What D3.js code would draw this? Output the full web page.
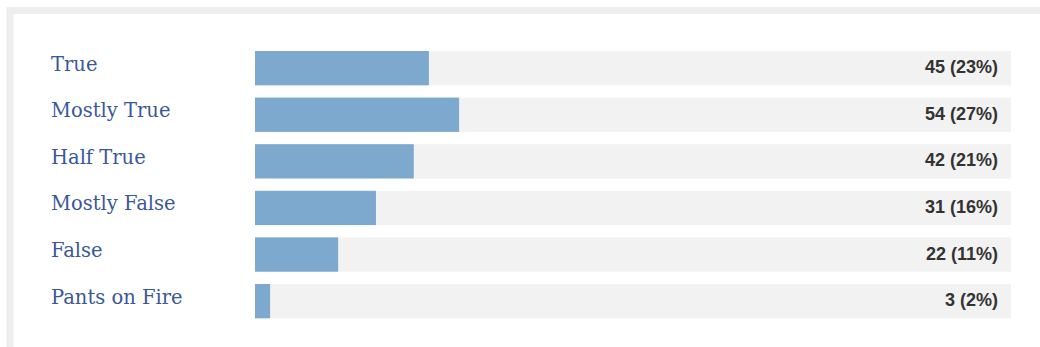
<!DOCTYPE html>
<html lang="en">
<head>
  <meta charset="UTF-8">
  <title>Ratings</title>
  <script src="https://cdnjs.cloudflare.com/ajax/libs/d3/7.8.5/d3.min.js"></script>
  <style>
    * { margin: 0; padding: 0; }
    html, body { background: #fff; }
    svg { display: block; }
  </style>
</head>
<body>
  <div id="chart"></div>
<script>
  const categories = ['True', 'Mostly True', 'Half True', 'Mostly False', 'False', 'Pants on Fire']
  const counts = [45, 54, 42, 31, 22, 3]
  const percents = [23, 27, 21, 16, 11, 2]

  const W = 1040, H = 347
  const svg = d3.select('#chart').append('svg')
    .attr('width', W)
    .attr('height', H)

  // panel frame (runs off right and bottom edges)
  svg.append('rect')
    .attr('x', 10).attr('y', 10.5)
    .attr('width', 1200).attr('height', 500)
    .attr('fill', '#fff')
    .attr('stroke', '#eeeeee')
    .attr('stroke-width', 7)

  const x = d3.scaleLinear().domain([0, 100]).range([255, 1011])
  const y = d3.scaleBand().domain(categories).range([51, 318.3]).paddingInner(0.264).paddingOuter(0)

  const rows = svg.selectAll('.row')
    .data(categories.map((c, i) => ({ name: c, count: counts[i], pct: percents[i] })))
    .join('g')
    .attr('class', 'row')
    .attr('transform', d => `translate(0,${y(d.name)})`)

  rows.append('rect')
    .attr('x', x(0))
    .attr('width', x(100) - x(0))
    .attr('height', y.bandwidth())
    .attr('fill', '#f2f2f2')

  rows.append('rect')
    .attr('x', x(0))
    .attr('width', d => x(d.pct) - x(0))
    .attr('height', y.bandwidth())
    .attr('fill', '#7ea9cf')

  rows.append('text')
    .attr('x', 51)
    .attr('y', 19.7)
    .attr('fill', '#3a5898')
    .style('font-family', '"DejaVu Serif", Georgia, serif')
    .style('font-size', '19.5px')
    .text(d => d.name)

  rows.append('text')
    .attr('x', 998)
    .attr('y', 22.3)
    .attr('text-anchor', 'end')
    .attr('fill', '#333')
    .style('font-family', '"Liberation Sans", Arial, Helvetica, sans-serif')
    .style('font-weight', 'bold')
    .style('font-size', '18px')
    .text(d => `${d.count} (${d.pct}%)`)
</script>
</body>
</html>
